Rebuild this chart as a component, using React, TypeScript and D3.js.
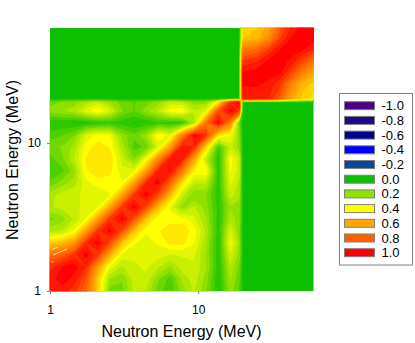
import React, { useRef, useEffect } from "react";
import * as d3 from "d3";

const WIDTH = 415;
const HEIGHT = 343;

// knots of the covariance grid, MeV
const energies = [
  1.0, 1.205, 1.453, 1.751, 2.11, 2.54, 3.07, 3.69, 4.45, 5.37, 6.47, 7.8, 9.4,
  11.3, 13.7, 16.5, 18.9, 20.0, 25, 30, 36, 43, 51, 60,
];

// correlation, bottom row first
const lowBlock = [
  [.92, .95, .90, .78, .50, .15, .16, .28, .27, .15, .08, .20, .28, .18, .02, .20, .12],
  [.95, 1, .96, .82, .50, .22, .18, .30, .32, .18, .10, .24, .30, .20, .02, .23, .14],
  [.90, .98, 1, .92, .62, .36, .27, .32, .33, .28, .22, .30, .32, .23, .03, .26, .16],
  [.75, .80, .90, 1, .88, .58, .36, .33, .34, .35, .32, .33, .33, .22, .03, .32, .20],
  [.50, .55, .64, .92, 1, .84, .52, .38, .36, .38, .44, .44, .38, .23, .03, .38, .22],
  [.26, .28, .38, .62, .90, 1, .84, .53, .38, .42, .46, .46, .40, .26, .04, .33, .18],
  [.16, .20, .28, .38, .62, .90, 1, .84, .53, .38, .40, .40, .34, .23, .04, .25, .20],
  [.27, .29, .32, .33, .37, .60, .89, 1, .85, .55, .36, .20, .28, .20, .05, .22, .20],
  [.25, .30, .32, .33, .33, .37, .60, .89, 1, .85, .55, .30, .18, .18, .04, .30, .24],
  [.14, .20, .25, .36, .40, .40, .38, .62, .93, 1, .78, .45, .28, .28, .04, .34, .26],
  [.07, .11, .20, .42, .46, .44, .34, .36, .62, .94, .98, .72, .42, .42, .03, .38, .30],
  [.10, .16, .27, .43, .47, .46, .30, .18, .38, .68, .97, .95, .60, .28, .03, .40, .30],
  [.16, .18, .24, .40, .45, .42, .25, .10, .14, .34, .62, .97, .92, .48, .08, .30, .20],
  [.10, .12, .17, .33, .40, .38, .20, .14, .22, .42, .35, .70, 1, .90, .45, .38, .20],
  [.03, .03, .02, .02, .04, .06, .04, .02, .03, .06, .05, .06, .25, .75, 1, .70, .14],
  [.20, .22, .25, .35, .42, .33, .18, .12, .20, .28, .40, .42, .28, .35, .85, 1, .90],
  [.15, .18, .20, .25, .30, .22, .15, .12, .15, .20, .30, .28, .20, .20, .45, .92, 1],
];

const highBlock = [
  [.95, .95, .92, .80, .60, .50, .46],
  [.98, .98, .96, .88, .68, .55, .50],
  [.98, 1, 1, .98, .85, .70, .60],
  [.88, .92, .99, 1, .96, .85, .75],
  [.72, .78, .88, .98, 1, .98, .92],
  [.52, .56, .68, .88, .98, 1, 1],
  [.48, .52, .60, .82, .95, 1, 1],
];

// pale gaps left in the lower corner of the contour plot: [x0, y0, x1, y1] in MeV
const gaps = [
  [1.03, 1.91, 1.13, 1.98],
  [1.05, 1.75, 1.3, 1.92],
  [1.02, 1.57, 1.05, 1.58],
];

const legendValues = [-1, -0.8, -0.6, -0.4, -0.2, 0, 0.2, 0.4, 0.6, 0.8, 1];
const legendColors = [
  "#4b0082", "#1c0a80", "#00008b", "#0000ff", "#0a469e", "#0cc000",
  "#90e000", "#ffff00", "#ffa500", "#ff6000", "#ff0000",
];

const FONT = "'Liberation Sans', Arial, sans-serif";

const App = () => {
  const svgRef = useRef(null);

  function draw() {
    const svg = d3.select(svgRef.current);
    svg.selectAll("*").remove();

    const x = d3.scaleLog().domain([1, 60]).range([50, 313.5]);
    const y = d3.scaleLog().domain([1, 60]).range([291, 28]);
    const color = d3.scaleLinear().domain(legendValues).range(legendColors);

    // one flat grid: the two blocks on the diagonal, nothing between them
    const n = energies.length;
    const nLow = lowBlock.length;
    const zeros = (k) => new Array(k).fill(0);
    const values = [
      ...lowBlock.flatMap((row) => [...row, ...zeros(n - nLow)]),
      ...highBlock.flatMap((row) => [...zeros(nLow), ...row]),
    ];

    const thresholds = d3.range(0.025, 1, 0.05);
    const contours = d3.contours().size([n, n]).smooth(true).thresholds(thresholds)(values);

    // contour coordinates have the knots at i + 0.5
    const knotX = d3.scaleLinear().domain(d3.range(n)).range(energies.map((e) => x(e))).clamp(true);
    const knotY = d3.scaleLinear().domain(d3.range(n)).range(energies.map((e) => y(e))).clamp(true);
    const path = d3.geoPath(
      d3.geoTransform({
        point(px, py) {
          this.stream.point(knotX(px - 0.5), knotY(py - 0.5));
        },
      })
    );

    svg
      .append("rect")
      .attr("x", x(1))
      .attr("y", y(60))
      .attr("width", x(60) - x(1))
      .attr("height", y(1) - y(60))
      .attr("fill", color(0));

    svg
      .append("g")
      .selectAll("path")
      .data(contours)
      .enter()
      .append("path")
      .attr("d", path)
      .attr("fill", (d) => color(d.value + 0.025))
      .attr("stroke", (d) => color(d.value + 0.025))
      .attr("stroke-width", 0.3);

    svg
      .append("g")
      .selectAll("line")
      .data(gaps)
      .enter()
      .append("line")
      .attr("x1", (d) => x(d[0]))
      .attr("y1", (d) => y(d[1]))
      .attr("x2", (d) => x(d[2]))
      .attr("y2", (d) => y(d[3]))
      .attr("stroke", "#fff")
      .attr("stroke-opacity", 0.8)
      .attr("stroke-width", 0.9);

    const xAxis = svg
      .append("g")
      .attr("transform", `translate(0, ${y(1)})`)
      .call(d3.axisBottom(x).tickValues([1, 10]).tickFormat(d3.format("d")).tickSize(3).tickPadding(11));
    const yAxis = svg
      .append("g")
      .attr("transform", `translate(${x(1)}, 0)`)
      .call(d3.axisLeft(y).tickValues([1, 10]).tickFormat(d3.format("d")).tickSize(3).tickPadding(6));

    [xAxis, yAxis].forEach((axis) => {
      axis.select(".domain").remove();
      axis.selectAll("line").attr("stroke", "#808080");
      axis.selectAll("text").style("font-family", FONT).style("font-size", "12px").attr("fill", "#000");
    });

    svg
      .append("text")
      .attr("x", 181.5)
      .attr("y", 337)
      .attr("text-anchor", "middle")
      .style("font-family", FONT)
      .style("font-size", "16px")
      .text("Neutron Energy (MeV)");

    svg
      .append("text")
      .attr("transform", "translate(18, 160) rotate(-90)")
      .attr("text-anchor", "middle")
      .style("font-family", FONT)
      .style("font-size", "16px")
      .text("Neutron Energy (MeV)");

    // legend
    const legendY = d3.scalePoint().domain(legendValues).range([105.7, 252.7]);
    svg
      .append("rect")
      .attr("x", 339.5)
      .attr("y", 93.5)
      .attr("width", 73)
      .attr("height", 171.5)
      .attr("fill", "#fff")
      .attr("stroke", "#808080");

    const items = svg
      .append("g")
      .selectAll("g")
      .data(legendValues)
      .enter()
      .append("g")
      .attr("transform", (d) => `translate(0, ${legendY(d)})`);

    items
      .append("rect")
      .attr("x", 344.5)
      .attr("y", -4)
      .attr("width", 30)
      .attr("height", 8)
      .attr("fill", (d) => color(d))
      .attr("stroke", "#808080");

    items
      .append("text")
      .attr("x", 381.5)
      .attr("y", 4.5)
      .style("font-family", FONT)
      .style("font-size", "13px")
      .text((d) => d.toFixed(1));
  }

  useEffect(draw, []);

  return (
    <svg
      ref={svgRef}
      width={WIDTH}
      height={HEIGHT}
      style={{ position: "absolute", left: 0, top: 0, background: "#fff" }}
    />
  );
};

export default App;
